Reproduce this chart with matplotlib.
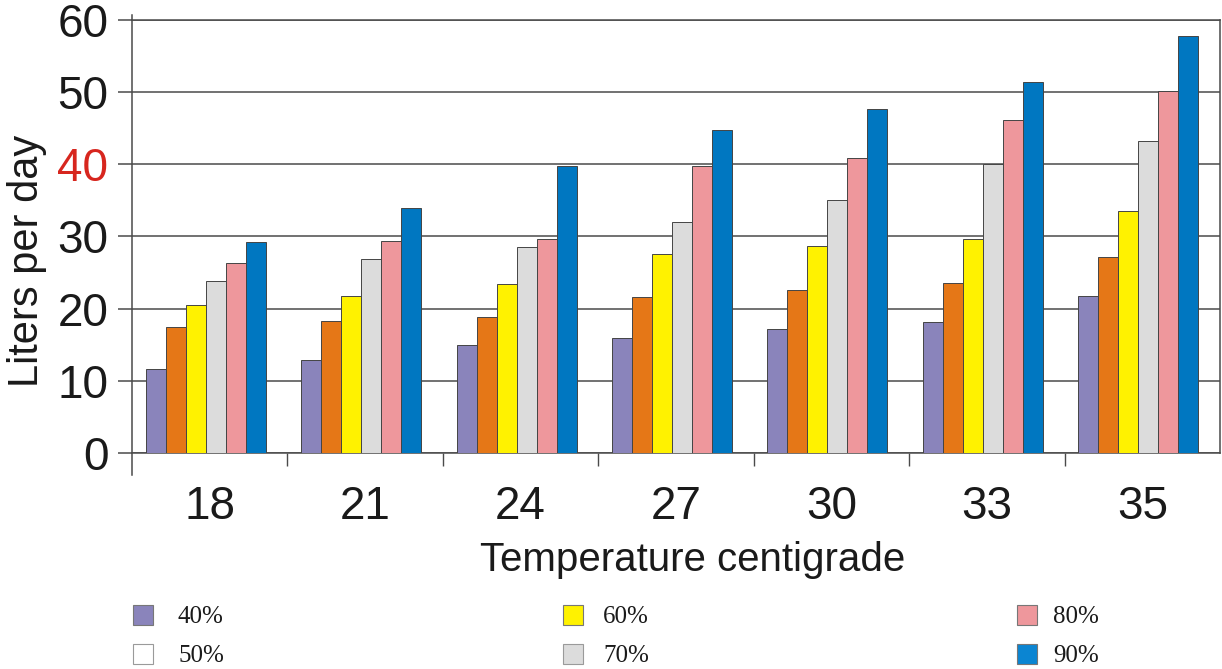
import matplotlib
matplotlib.use("Agg")
import matplotlib.pyplot as plt
from matplotlib.patches import Rectangle
from matplotlib.lines import Line2D
import numpy as np

# ---- data ----
temps = ['18', '21', '24', '27', '30', '33', '35']
series_labels = ['40%', '50%', '60%', '70%', '80%', '90%']
p40 = [11.6, 12.9, 15.0, 15.9, 17.2, 18.1, 21.7]
p50 = [17.4, 18.3, 18.9, 21.6, 22.6, 23.5, 27.2]
p60 = [20.5, 21.7, 23.4, 27.6, 28.7, 29.6, 33.5]
p70 = [23.8, 26.9, 28.5, 32.0, 35.1, 40.0, 43.3]
p80 = [26.3, 29.4, 29.6, 39.8, 40.9, 46.2, 50.2]
p90 = [29.2, 33.9, 39.7, 44.7, 47.7, 51.4, 57.8]
yticks = [0, 10, 20, 30, 40, 50, 60]

# ---- styles ----
bar_colors = ['#8A84BB', '#E57717', '#FFF200', '#DCDCDC', '#EE979C', '#0077C1']
legend_colors = ['#8A84BB', '#FFFFFF', '#FFF200', '#DCDCDC', '#EE979C', '#0B85D2']
line_col = '#4a4a4a'

W, H = 1222, 669
fig = plt.figure(figsize=(W / 100, H / 100), dpi=100)
ax_l, ax_r, ax_t, ax_b = 132, 1220, 20, 453
ax = fig.add_axes([ax_l / W, 1 - ax_b / H, (ax_r - ax_l) / W, (ax_b - ax_t) / H])

sans = 'Liberation Sans'
serif = 'Liberation Serif'

x = np.arange(len(temps))
bw = 0.1287
offset = -0.026
all_series = [p40, p50, p60, p70, p80, p90]
for j, vals in enumerate(all_series):
    ax.bar(x + (j - 2.5) * bw + offset, vals, width=bw, color=bar_colors[j],
           edgecolor='#444444', linewidth=0.7, zorder=3)

ax.set_xlim(-0.5, len(temps) - 0.5)
ax.set_ylim(0, 60)

# y axis
ax.set_yticks(yticks)
ax.set_yticklabels([str(v) for v in yticks])
ax.tick_params(axis='y', length=10, width=1.1, color=line_col, pad=7,
               labelsize=33, direction='out')
for lab in ax.get_yticklabels():
    lab.set_fontfamily(sans)
    lab.set_color('#1a1a1a')
    if lab.get_text() == '40':
        lab.set_color('#D7261E')
ax.yaxis.grid(True, color=line_col, linewidth=1.1, zorder=0)
ax.set_axisbelow(True)

# x axis
ax.set_xticks(x)
ax.set_xticklabels(temps)
ax.set_xticks(np.arange(0.5, len(temps) - 1, 1.0), minor=True)
ax.tick_params(axis='x', which='major', length=0, pad=23, labelsize=33)
ax.tick_params(axis='x', which='minor', length=9, width=1.0, color=line_col,
               direction='out')
for lab in ax.get_xticklabels():
    lab.set_fontfamily(sans)
    lab.set_color('#1a1a1a')

for s in ['left', 'top']:
    ax.spines[s].set_visible(False)
ax.spines['right'].set_color(line_col)
ax.spines['right'].set_linewidth(1.1)
ax.spines['top'].set_visible(True)
ax.spines['top'].set_color(line_col)
ax.spines['top'].set_linewidth(1.1)
ax.spines['bottom'].set_color(line_col)
ax.spines['bottom'].set_linewidth(1.1)

# extended y axis line
ax.add_line(Line2D([0, 0], [-22 / 433, 1 + 5 / 433], transform=ax.transAxes,
                   color=line_col, linewidth=1.1, clip_on=False, zorder=5))

ax.set_xlabel('Temperature centigrade', fontsize=29, family=sans, color='#1a1a1a')
ax.xaxis.set_label_coords((692.5 - ax_l) / (ax_r - ax_l), -(541 - ax_b) / (ax_b - ax_t))
ax.xaxis.label.set_va('top')

ax.set_ylabel('Liters per day', fontsize=30, family=sans, color='#1a1a1a')
ax.yaxis.label.set_va('center')
ax.yaxis.set_label_coords((27 - ax_l) / (ax_r - ax_l), (ax_b - 260.5) / (ax_b - ax_t))

# ---- legend (manual, 3 columns x 2 rows) ----
col_marker_x = [133, 563, 1017]
col_text_x = [178, 603, 1053]
row_y = [615, 654]
sq = 20
for k, lab in enumerate(series_labels):
    c, r = k // 2, k % 2
    mx, my = col_marker_x[c], row_y[r]
    ec = '#9a9a9a' if k in (1, 3) else '#777777'
    fig.patches.append(Rectangle((mx / W, 1 - (my + sq / 2) / H), sq / W, sq / H,
                                 transform=fig.transFigure, facecolor=legend_colors[k],
                                 edgecolor=ec, linewidth=0.8))
    fig.text(col_text_x[c] / W, 1 - (my + 2) / H, lab, fontsize=18, family=serif,
             color='#1a1a1a', ha='left', va='center')

fig.savefig('out.png', dpi=100)
